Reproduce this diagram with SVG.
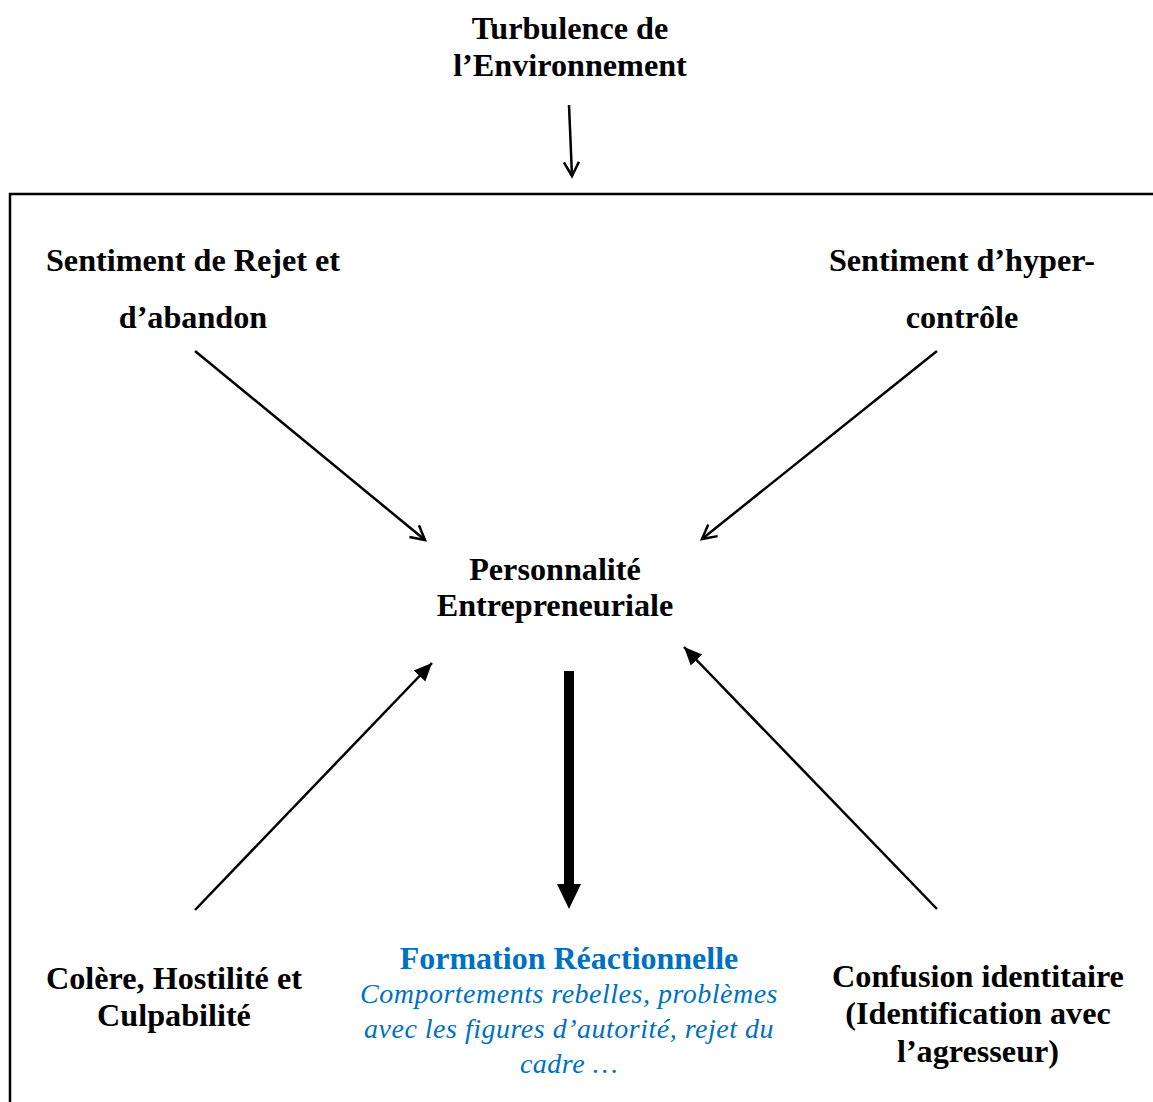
<svg xmlns="http://www.w3.org/2000/svg" width="1153" height="1102" viewBox="0 0 1153 1102">
<style>
.t{font-family:"Liberation Serif","Times New Roman",serif;font-weight:bold;font-size:32.2px;fill:#000;text-anchor:middle}
.b{font-family:"Liberation Serif","Times New Roman",serif;font-weight:bold;font-size:32px;fill:#0070C0;text-anchor:middle}
.i{font-family:"Liberation Serif","Times New Roman",serif;font-style:italic;font-size:28px;fill:#0070C0;text-anchor:middle;letter-spacing:0.5px}
.ln{stroke:#000;stroke-width:2.5;fill:none}
</style>
<defs>
<marker id="open" markerWidth="18" markerHeight="18" refX="15" refY="9" orient="auto" markerUnits="userSpaceOnUse">
<path d="M1,1.5 L15,9 L1,16.5" fill="none" stroke="#000" stroke-width="2.5"/>
</marker>
<marker id="fill" markerWidth="20" markerHeight="20" refX="18" refY="10" orient="auto" markerUnits="userSpaceOnUse">
<path d="M0,2 L18,10 L0,18 Z" fill="#000"/>
</marker>
</defs>
<rect x="0" y="0" width="1153" height="1102" fill="#fff"/>
<g id="frame"><path d="M10,1110 L10,194 L1160,194" fill="none" stroke="#000" stroke-width="2.5"/></g>
<g id="n-turbulence"><text class="t" x="570" y="39">Turbulence de</text><text class="t" x="570" y="76">l’Environnement</text></g>
<g id="n-rejet"><text class="t" x="193" y="271">Sentiment de Rejet et</text><text class="t" x="193" y="328">d’abandon</text></g>
<g id="n-hyper"><text class="t" x="962" y="271">Sentiment d’hyper-</text><text class="t" x="962" y="328">contrôle</text></g>
<g id="n-personnalite"><text class="t" x="555" y="580">Personnalité</text><text class="t" x="555" y="616">Entrepreneuriale</text></g>
<g id="n-colere"><text class="t" x="174" y="989">Colère, Hostilité et</text><text class="t" x="174" y="1026">Culpabilité</text></g>
<g id="n-confusion"><text class="t" x="978" y="987">Confusion identitaire</text><text class="t" x="978" y="1024">(Identification avec</text><text class="t" x="978" y="1062">l’agresseur)</text></g>
<g id="n-formation"><text class="b" x="569" y="969">Formation Réactionnelle</text><text class="i" x="569" y="1003">Comportements rebelles, problèmes</text><text class="i" x="569" y="1038">avec les figures d’autorité, rejet du</text><text class="i" x="569" y="1073">cadre …</text></g>
<g id="connectors">
<line class="ln" x1="569" y1="105" x2="572" y2="176" marker-end="url(#open)"/>
<line class="ln" x1="195" y1="351" x2="425" y2="540" marker-end="url(#open)"/>
<line class="ln" x1="937" y1="351" x2="702" y2="539" marker-end="url(#open)"/>
<line class="ln" x1="195" y1="910" x2="432" y2="663" marker-end="url(#fill)"/>
<line class="ln" x1="937" y1="909" x2="684" y2="647" marker-end="url(#fill)"/>
<path d="M564,671 L574,671 L574,884 L581,884 L569,909 L557,884 L564,884 Z" fill="#000"/>
</g>
</svg>
